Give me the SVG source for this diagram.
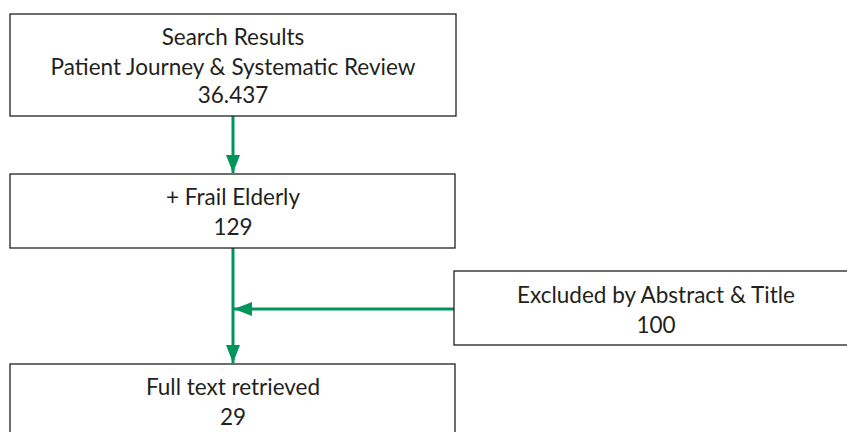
<svg xmlns="http://www.w3.org/2000/svg" width="847" height="432" viewBox="0 0 847 432">
  <style>
    .box { fill: #ffffff; stroke: #231f20; stroke-width: 1.3; }
    .lbl { font-family: Lato, "Open Sans", "Liberation Sans", sans-serif; font-size: 22.5px; fill: #231f20; text-anchor: middle; }
    .edge { stroke: #00955a; stroke-width: 3; fill: none; }
  </style>
  <defs>
    <marker id="head" viewBox="0 0 18 14" refX="18" refY="7" markerWidth="18" markerHeight="14" markerUnits="userSpaceOnUse" orient="auto">
      <path d="M0,0 L18,7 L0,14 Z" fill="#00955a"/>
    </marker>
  </defs>
  <rect width="847" height="432" fill="#ffffff"/>

  <g id="connectors">
    <line class="edge" x1="233" y1="116" x2="233" y2="173" marker-end="url(#head)"/>
    <line class="edge" x1="233" y1="248" x2="233" y2="363" marker-end="url(#head)"/>
    <line class="edge" x1="454" y1="309" x2="234" y2="309" marker-end="url(#head)"/>
  </g>

  <g id="search-results">
    <rect class="box" x="10" y="14" width="446" height="102"/>
    <text class="lbl" x="233" y="45">Search Results</text>
    <text class="lbl" x="233" y="75">Patient Journey &amp; Systematic Review</text>
    <text class="lbl" x="233" y="103">36.437</text>
  </g>

  <g id="frail-elderly">
    <rect class="box" x="10" y="174" width="445" height="74"/>
    <text class="lbl" x="233" y="205">+ Frail Elderly</text>
    <text class="lbl" x="233" y="235">129</text>
  </g>

  <g id="excluded">
    <rect class="box" x="454" y="271" width="404" height="74"/>
    <text class="lbl" x="656" y="303">Excluded by Abstract &amp; Title</text>
    <text class="lbl" x="656" y="333">100</text>
  </g>

  <g id="full-text">
    <rect class="box" x="10" y="364" width="445" height="80"/>
    <text class="lbl" x="233" y="395">Full text retrieved</text>
    <text class="lbl" x="233" y="425">29</text>
  </g>
</svg>
